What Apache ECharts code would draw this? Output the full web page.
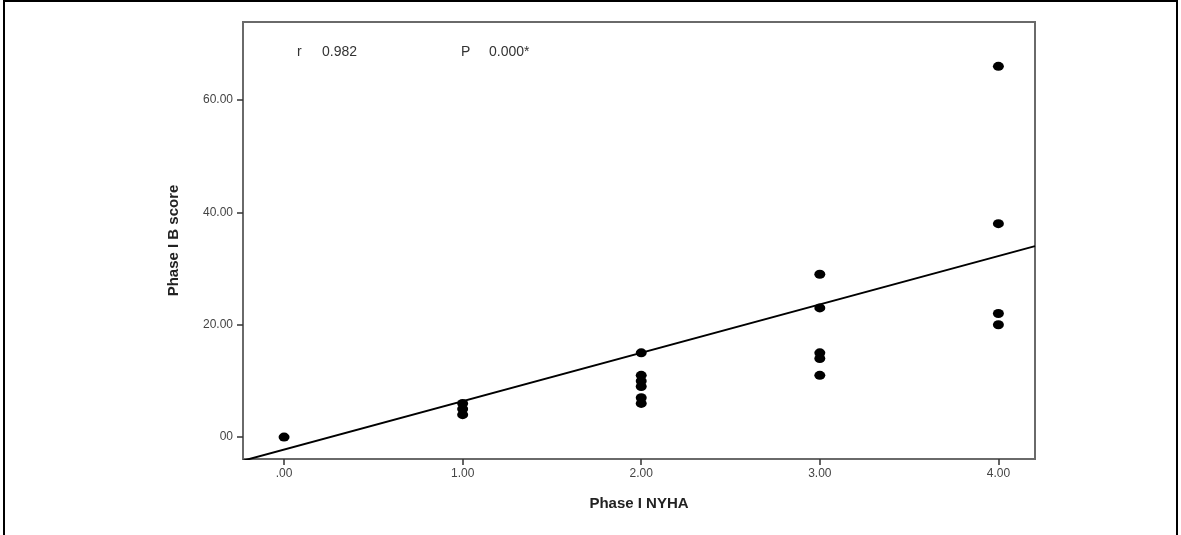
<!DOCTYPE html>
<html>
<head>
<meta charset="utf-8">
<script src="https://cdn.jsdelivr.net/npm/echarts@6/dist/echarts.min.js"></script>
<style>
  html, body { margin: 0; padding: 0; background: #fff; }
  #chart { width: 1181px; height: 535px; }
</style>
</head>
<body>
<div id="chart"></div>
<script>
// 数据
const xTicks = [0, 1, 2, 3, 4];
const yTicks = [0, 20, 40, 60];
const nyha = [0, 1, 1, 1, 2, 2, 2, 2, 2, 2, 3, 3, 3, 3, 3, 4, 4, 4, 4];
const bScore = [0, 6, 5, 4, 15, 11, 10, 9, 7, 6, 29, 23, 15, 14, 11, 66, 38, 22, 20];
// 回归线端点
const fitX = [-0.23, 4.205];
const fitY = [-4.2, 34.0];

const points = nyha.map((x, i) => [x, bScore[i]]);
const fitLine = fitX.map((x, i) => [x, fitY[i]]);

const axisColor = '#6a6a6a';
const labelColor = '#444';

const chart = echarts.init(document.getElementById('chart'));

const option = {
  animation: false,
  grid: {
    left: 243,
    right: 146,
    top: 22,
    bottom: 76,
    show: true,
    borderColor: axisColor,
    borderWidth: 2
  },
  xAxis: {
    type: 'value',
    min: -0.23,
    max: 4.205,
    name: 'Phase I NYHA',
    nameLocation: 'middle',
    nameGap: 37,
    nameTextStyle: {
      fontFamily: 'Liberation Sans',
      fontWeight: 'bold',
      fontSize: 15,
      color: '#222'
    },
    axisLine: { show: true, onZero: false, lineStyle: { color: axisColor, width: 2 } },
    axisTick: { show: true, length: 6, customValues: xTicks, lineStyle: { color: '#333', width: 1.5 } },
    axisLabel: {
      customValues: xTicks,
      color: labelColor,
      fontSize: 12,
      fontFamily: 'Liberation Sans',
      margin: 9,
      formatter: (v) => (v === 0 ? '.00' : v.toFixed(2))
    },
    splitLine: { show: false }
  },
  yAxis: {
    type: 'value',
    min: -3.9,
    max: 73.9,
    name: 'Phase I B score',
    nameLocation: 'middle',
    nameGap: 62,
    nameTextStyle: {
      fontFamily: 'Liberation Sans',
      fontWeight: 'bold',
      fontSize: 15,
      color: '#222'
    },
    axisLine: { show: true, onZero: false, lineStyle: { color: axisColor, width: 2 } },
    axisTick: { show: true, length: 6, customValues: yTicks, lineStyle: { color: '#333', width: 1.5 } },
    axisLabel: {
      customValues: yTicks,
      color: labelColor,
      fontSize: 12,
      fontFamily: 'Liberation Sans',
      margin: 10,
      formatter: (v) => (v === 0 ? '00' : v.toFixed(2))
    },
    splitLine: { show: false }
  },
  graphic: [
    {
      type: 'rect',
      shape: { x: 4, y: 1, width: 1173, height: 545 },
      style: { fill: 'none', stroke: '#000', lineWidth: 2 },
      silent: true
    },
    {
      type: 'text',
      left: 297,
      top: 45,
      style: { text: 'r', fontSize: 14, fontFamily: 'Liberation Sans', fill: '#333' }
    },
    {
      type: 'text',
      left: 322,
      top: 45,
      style: { text: '0.982', fontSize: 14, fontFamily: 'Liberation Sans', fill: '#333' }
    },
    {
      type: 'text',
      left: 461,
      top: 45,
      style: { text: 'P', fontSize: 14, fontFamily: 'Liberation Sans', fill: '#333' }
    },
    {
      type: 'text',
      left: 489,
      top: 45,
      style: { text: '0.000*', fontSize: 14, fontFamily: 'Liberation Sans', fill: '#333' }
    }
  ],
  series: [
    {
      type: 'line',
      data: fitLine,
      symbol: 'none',
      lineStyle: { color: '#000', width: 2 },
      z: 2
    },
    {
      type: 'scatter',
      data: points,
      symbol: 'circle',
      symbolSize: [11, 9],
      itemStyle: { color: '#000', opacity: 1 },
      z: 3
    }
  ]
};

chart.setOption(option);
</script>
</body>
</html>
